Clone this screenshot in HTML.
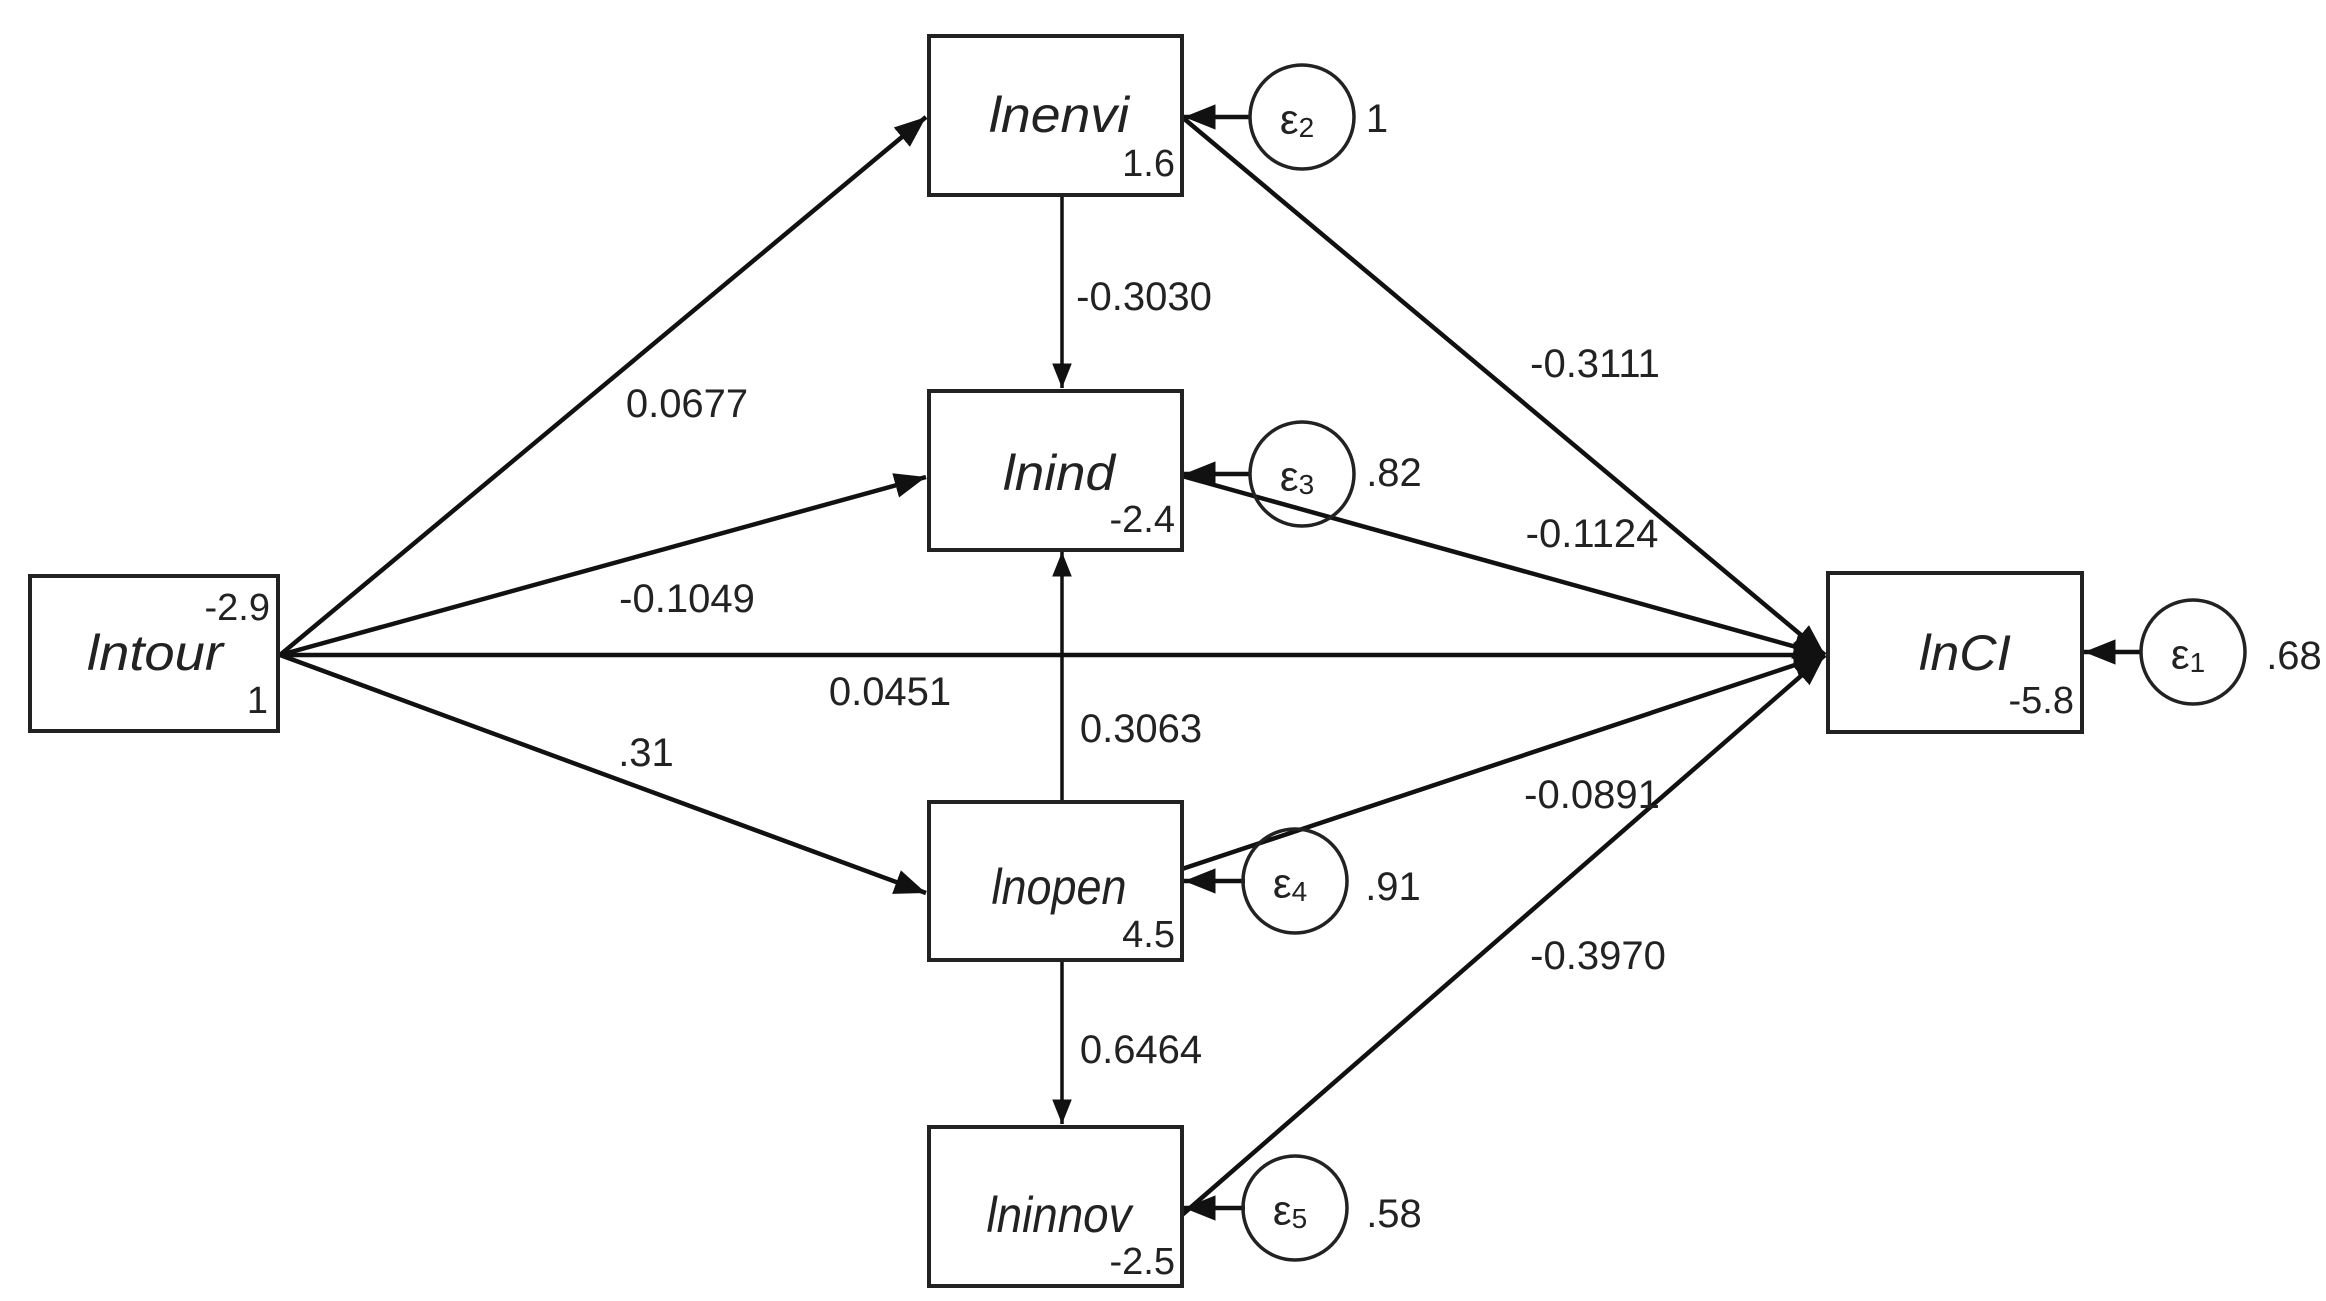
<!DOCTYPE html>
<html><head><meta charset="utf-8"><style>
html,body{margin:0;padding:0;background:#fff;}
svg{display:block;}
text{font-family:"Liberation Sans",Arial,sans-serif;fill:#222;dominant-baseline:central;}
.n{font-size:40px;text-anchor:middle;}
.v{font-size:38px;text-anchor:end;}
.l{font-size:50px;font-style:italic;text-anchor:middle;}
.e{font-size:42px;text-anchor:middle;}
</style></head><body>
<svg width="2326" height="1301" viewBox="0 0 2326 1301" xmlns="http://www.w3.org/2000/svg">
<defs>
<marker id="a" markerWidth="10" markerHeight="8" refX="10" refY="4" orient="auto" markerUnits="userSpaceOnUse" viewBox="0 0 10 8">
</marker>
<marker id="ah" viewBox="0 0 10 10" refX="10" refY="5" markerWidth="7" markerHeight="7" orient="auto"><path d="M0,1 L10,5 L0,9 z" fill="#111"/></marker>
</defs>
<g stroke="#111" stroke-width="4.5" fill="none" marker-end="url(#ah)">
<line x1="280" y1="655" x2="926" y2="117"/>
<line x1="280" y1="655" x2="926" y2="477"/>
<line x1="280" y1="655" x2="1825" y2="655"/>
<line x1="280" y1="655" x2="926" y2="893"/>
<line x1="1182" y1="117" x2="1825" y2="655"/>
<line x1="1182" y1="476" x2="1825" y2="655"/>
<line x1="1182" y1="869" x2="1825" y2="655"/>
<line x1="1182" y1="1215" x2="1825" y2="655"/>
<line x1="1062" y1="196" x2="1062" y2="388" stroke-width="3.5"/>
<line x1="1062" y1="800" x2="1062" y2="552" stroke-width="3.5"/>
<line x1="1062" y1="961" x2="1062" y2="1124" stroke-width="3.5"/>
<line x1="1250" y1="117" x2="1184" y2="117"/>
<line x1="1250" y1="474" x2="1184" y2="474"/>
<line x1="1245" y1="881" x2="1184" y2="881"/>
<line x1="1245" y1="1208" x2="1184" y2="1208"/>
<line x1="2141" y1="652" x2="2084" y2="652"/>
</g>
<g stroke="#222" stroke-width="4" fill="#fff">
<rect x="30" y="576" width="248" height="155"/>
<rect x="929" y="36" width="253" height="159"/>
<rect x="929" y="391" width="253" height="159"/>
<rect x="929" y="802" width="253" height="158"/>
<rect x="929" y="1127" width="253" height="159"/>
<rect x="1828" y="573" width="254" height="159"/>
</g>
<g stroke="#222" stroke-width="3.5" fill="none">
<circle cx="1302" cy="117" r="52"/>
<circle cx="1302" cy="474" r="52"/>
<circle cx="1295" cy="881" r="52"/>
<circle cx="1295" cy="1208" r="52"/>
<circle cx="2193" cy="652" r="52"/>
</g>
<text class="l" x="1059" y="115" textLength="140" lengthAdjust="spacingAndGlyphs">lnenvi</text>
<text class="l" x="1059" y="473" textLength="112" lengthAdjust="spacingAndGlyphs">lnind</text>
<text class="l" x="155" y="653" textLength="136" lengthAdjust="spacingAndGlyphs">lntour</text>
<text class="l" x="1059" y="887" textLength="135" lengthAdjust="spacingAndGlyphs">lnopen</text>
<text class="l" x="1059" y="1215" textLength="145" lengthAdjust="spacingAndGlyphs">lninnov</text>
<text class="l" x="1965" y="653" textLength="92" lengthAdjust="spacingAndGlyphs">lnCI</text>
<text class="v" x="1175" y="164">1.6</text>
<text class="v" x="1175" y="520">-2.4</text>
<text class="v" x="270" y="608">-2.9</text>
<text class="v" x="268" y="701">1</text>
<text class="v" x="1175" y="935">4.5</text>
<text class="v" x="1175" y="1262">-2.5</text>
<text class="v" x="2074" y="701">-5.8</text>
<text class="n" x="687" y="404">0.0677</text>
<text class="n" x="687" y="599">-0.1049</text>
<text class="n" x="890" y="692">0.0451</text>
<text class="n" x="646" y="753">.31</text>
<text class="n" x="1144" y="297">-0.3030</text>
<text class="n" x="1141" y="729">0.3063</text>
<text class="n" x="1141" y="1050">0.6464</text>
<text class="n" x="1595" y="364">-0.3111</text>
<text class="n" x="1592" y="534">-0.1124</text>
<text class="n" x="1592" y="795">-0.0891</text>
<text class="n" x="1598" y="956">-0.3970</text>
<text class="e" x="1297" y="119">ε<tspan font-size="28" dy="8">2</tspan></text>
<text class="e" x="1297" y="476">ε<tspan font-size="28" dy="8">3</tspan></text>
<text class="e" x="1290" y="883">ε<tspan font-size="28" dy="8">4</tspan></text>
<text class="e" x="1290" y="1210">ε<tspan font-size="28" dy="8">5</tspan></text>
<text class="e" x="2188" y="654">ε<tspan font-size="28" dy="8">1</tspan></text>
<text class="n" x="1377" y="119">1</text>
<text class="n" x="1394" y="473">.82</text>
<text class="n" x="1393" y="887">.91</text>
<text class="n" x="1394" y="1214">.58</text>
<text class="n" x="2294" y="656">.68</text>
</svg>
</body></html>
